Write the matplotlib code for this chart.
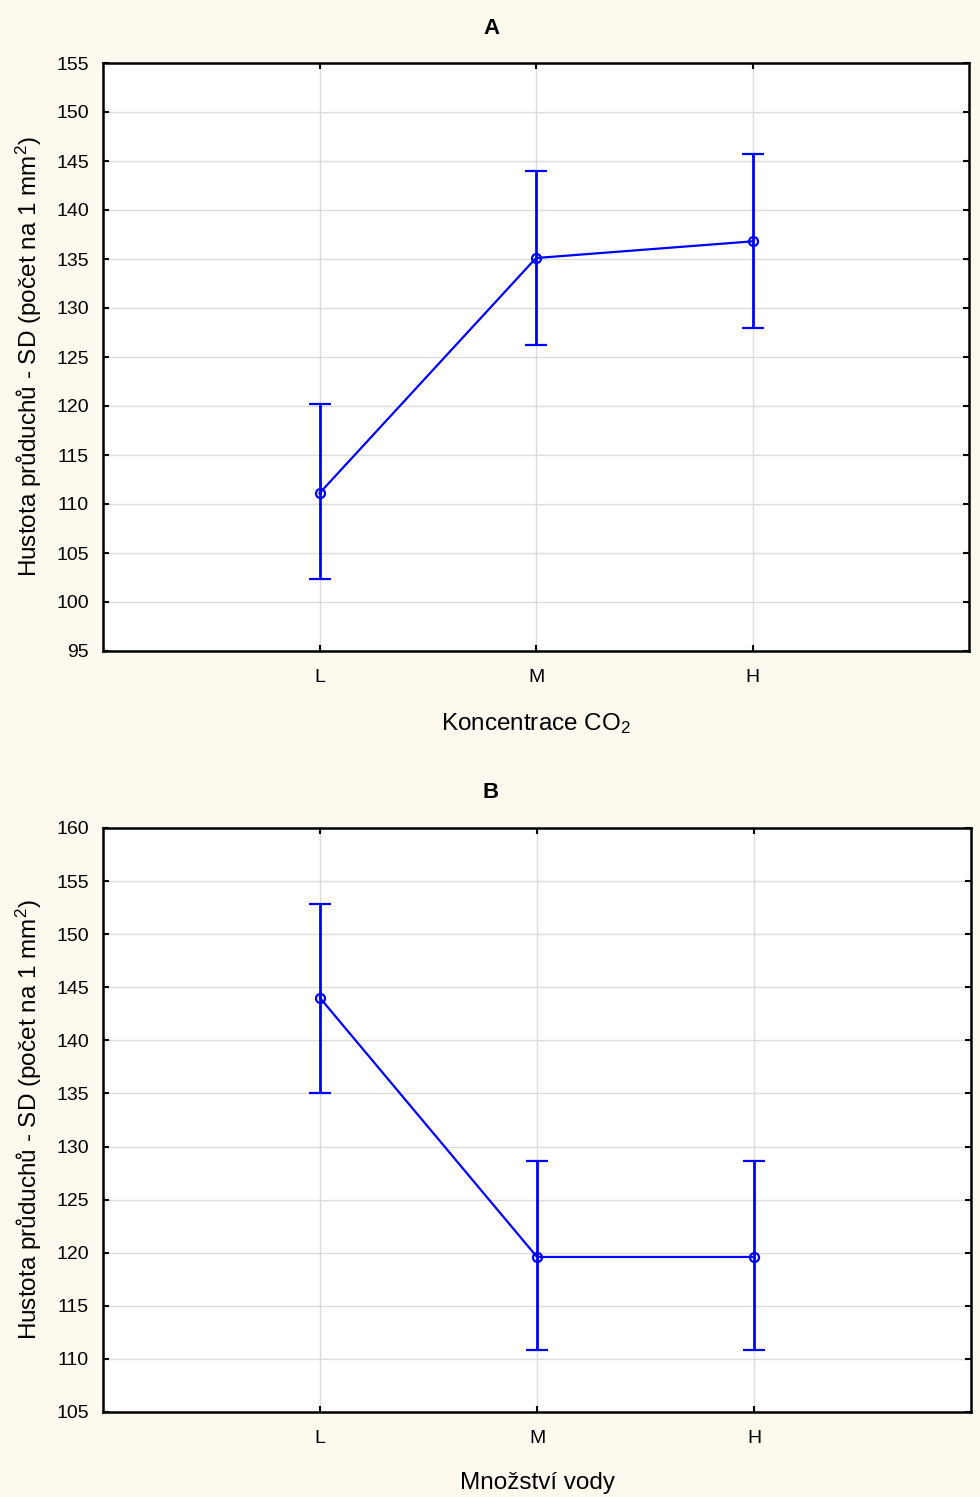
import matplotlib
matplotlib.use("Agg")
import matplotlib.pyplot as plt

plt.rcParams["font.family"] = ["Liberation Sans", "DejaVu Sans"]
plt.rcParams["mathtext.fontset"] = "custom"
plt.rcParams["mathtext.rm"] = "Liberation Sans"
plt.rcParams["mathtext.it"] = "Liberation Sans"

categories = ["L", "M", "H"]

# panel A - CO2 concentration
a_mean = [111.1, 135.1, 136.8]
a_low = [102.3, 126.2, 128.0]
a_high = [120.2, 144.0, 145.7]

# panel B - water amount
b_mean = [144.0, 119.6, 119.6]
b_low = [135.0, 110.8, 110.8]
b_high = [152.8, 128.6, 128.6]

bg = "#fdf9ee"
ylabel = "Hustota průduchů - SD (počet na 1 mm$^2$)"

fig = plt.figure(figsize=(9.8, 14.97), dpi=100, facecolor=bg)
W, H = 980, 1497
axA = fig.add_axes([103 / W, 1 - 651 / H, 866 / W, 588 / H])
axB = fig.add_axes([103 / W, 1 - 1412 / H, 868 / W, 584 / H])

panels = [
    (axA, a_mean, a_low, a_high, "A", 28, "Koncentrace CO$_2$", (95, 155), range(95, 156, 5)),
    (axB, b_mean, b_low, b_high, "B", 793, "Množství vody", (105, 160), range(105, 161, 5)),
]

for ax, mean, low, high, title, ty, xlab, ylim, yt in panels:
    x = [1, 2, 3]
    err = [[m - l for m, l in zip(mean, low)], [h - m for m, h in zip(mean, high)]]
    ax.errorbar(x, mean, yerr=err, color="#0000ff", lw=1.6, elinewidth=2,
                capsize=8, capthick=2, marker="o", mfc="none", mec="#0000ff",
                ms=6.5, mew=1.6, zorder=3)
    ax.set_xlim(0, 4)
    ax.set_ylim(*ylim)
    ax.set_xticks(x)
    ax.set_xticklabels(categories)
    ax.set_yticks(list(yt))
    ax.grid(True, color="#dcdcdc", lw=1)
    ax.set_axisbelow(True)
    ax.tick_params(direction="in", top=True, right=True, length=4, width=1.5,
                   labelsize=14, pad=10)
    ax.tick_params(axis="x", pad=13)
    for s in ax.spines.values():
        s.set_linewidth(1.8)
    fig.text(491 / W, 1 - ty / H, title, fontsize=16, fontweight="bold",
             ha="center", va="center")
    ax.set_xlabel(xlab, fontsize=17.5, labelpad=18)
    ax.set_ylabel(ylabel, fontsize=17.5, labelpad=9)
    ax.set_facecolor("white")

fig.savefig("out.png", dpi=100, facecolor=bg)
